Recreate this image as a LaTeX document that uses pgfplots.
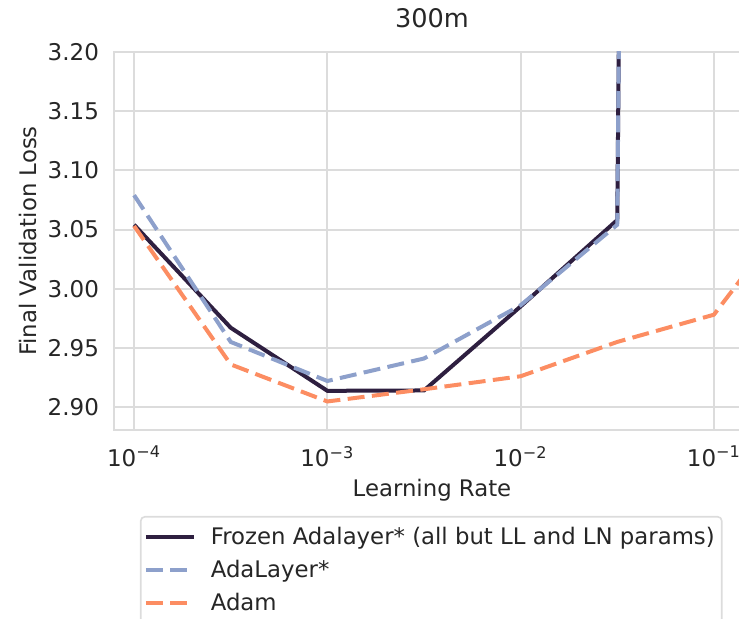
\documentclass[border=0pt]{standalone}
\usepackage{pgfplots}
\pgfplotsset{compat=1.18}
\usepackage{fontspec}
\setmainfont{DejaVu Sans}

\definecolor{frozen}{HTML}{2E1F40}
\definecolor{adalayer}{HTML}{8DA0CB}
\definecolor{adam}{HTML}{FC8D62}
\definecolor{gridgray}{HTML}{DCDCDC}
\definecolor{textgray}{HTML}{262626}

\begin{document}
\begin{tikzpicture}
% visible window: the axis runs on past the right edge
\path[use as bounding box, clip] (-57pt,-94.5pt) rectangle (312.5pt,215pt);
\begin{axis}[
  scale only axis,
  width=318pt, height=189pt,
  xmode=log,
  xmin=7.87e-5, xmax=0.1538,
  ymin=2.8806, ymax=3.20,
  xtick={1e-4,1e-3,1e-2,1e-1},
  xticklabels={10\textsuperscript{−4},10\textsuperscript{−3},10\textsuperscript{−2},10\textsuperscript{−1}},
  ytick={2.90,2.95,3.00,3.05,3.10,3.15,3.20},
  yticklabel style={/pgf/number format/fixed, /pgf/number format/fixed zerofill,
    /pgf/number format/precision=2, /pgf/number format/assume math mode=true, xshift=-4pt},
  minor xtick={},
  major tick length=0pt,
  minor tick length=0pt,
  grid=major,
  major grid style={gridgray, line width=1pt},
  axis line style={gridgray, line width=1pt},
  tick label style={font=\fontsize{11.5}{13}\selectfont, text=textgray},
  xticklabel style={yshift=-4.5pt},
  title={300m},
  title style={font=\fontsize{12.8}{15}\selectfont, text=textgray, at={(axis description cs:0.5,1.058)}, anchor=center},
  xlabel={Learning Rate},
  xlabel style={font=\fontsize{11.4}{13}\selectfont, text=textgray, at={(axis description cs:0.5,-0.1587)}, anchor=center},
  ylabel={Final Validation Loss},
  ylabel style={font=\fontsize{11.4}{13}\selectfont, text=textgray, at={(axis description cs:-0.135,0.5)}, anchor=center},
  legend style={at={(axis description cs:0.0409,-0.2275)}, anchor=north west,
    draw=gridgray, line width=0.8pt, rounded corners=2pt, fill=white,
    font=\fontsize{11.4}{13}\selectfont, text=textgray,
    row sep=2.4pt, inner xsep=1.5pt, inner ysep=3pt},
  legend cell align=left,
  legend image code/.code={\draw[#1, line width=2pt] (0pt,0pt) -- (24pt,0pt);
    \path (29.5pt,0pt);},
  lossdash/.style={dash pattern=on 8.5pt off 3.7pt},
]
\addplot[frozen, line width=2pt] coordinates {
  (1e-4,3.054) (3.1623e-4,2.967) (1e-3,2.9137) (3.1623e-3,2.914)
  (1e-2,2.985) (3.1623e-2,3.058) (1e-1,12.0)
};
\addlegendentry{Frozen Adalayer* (all but LL and LN params)}
\addplot[adalayer, line width=2pt, lossdash] coordinates {
  (1e-4,3.079) (3.1623e-4,2.955) (1e-3,2.922) (3.1623e-3,2.941)
  (1e-2,2.986) (3.1623e-2,3.054) (1e-1,12.0)
};
\addlegendentry{AdaLayer*}
\addplot[adam, line width=2pt, lossdash] coordinates {
  (1e-4,3.053) (3.1623e-4,2.936) (1e-3,2.9047) (3.1623e-3,2.915)
  (1e-2,2.926) (3.1623e-2,2.955) (1e-1,2.978) (3.1623e-1,3.085)
};
\addlegendentry{Adam}
\end{axis}
\end{tikzpicture}
\end{document}
